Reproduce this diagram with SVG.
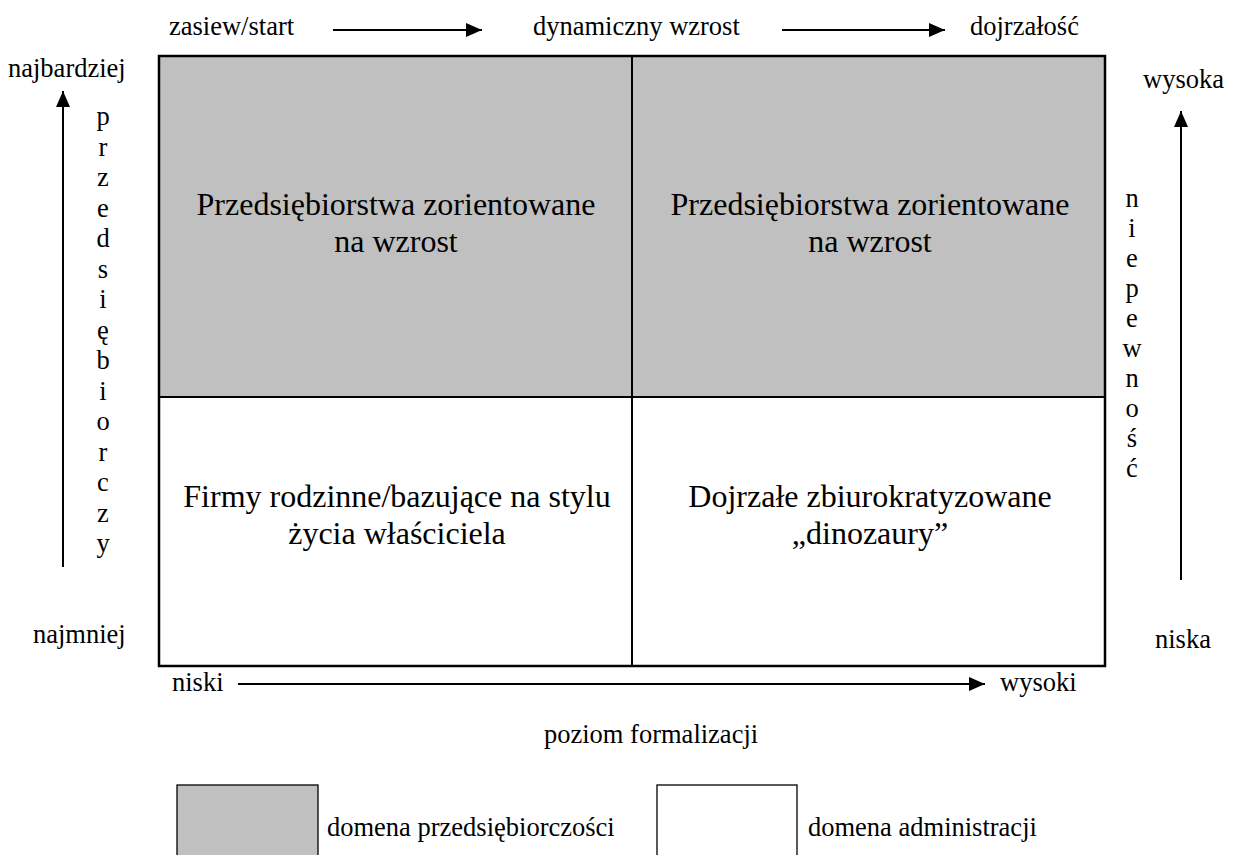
<svg xmlns="http://www.w3.org/2000/svg" width="1234" height="855" viewBox="0 0 1234 855">
  <defs>
    <marker id="head" viewBox="0 0 16 14" refX="16" refY="7" markerWidth="16" markerHeight="14" markerUnits="userSpaceOnUse" orient="auto">
      <path d="M0,0 L16,7 L0,14 Z" fill="#000"/>
    </marker>
    <style>
      text { font-family: 'Liberation Serif', 'Times New Roman', serif; fill: #000; }
      .lbl { font-size: 26.5px; }
      .cell { font-size: 32px; text-anchor: middle; }
      .vert { font-size: 26.5px; text-anchor: middle; }
      .axis { stroke: #000; stroke-width: 2; fill: none; marker-end: url(#head); }
      .shade { fill: #c0c0c0; }
      .plain { fill: #fff; }
      .border { fill: none; stroke: #000; stroke-width: 2.5; }
      .key { stroke: #000; stroke-width: 1.3; }
    </style>
  </defs>

  <rect width="1234" height="855" fill="#fff"/>

  <!-- quadrant cells -->
  <g id="cell-top-left">
    <rect class="shade" x="159" y="56" width="473" height="341"/>
    <text class="cell" x="396" y="215">Przedsiębiorstwa zorientowane</text>
    <text class="cell" x="396" y="252">na wzrost</text>
  </g>
  <g id="cell-top-right">
    <rect class="shade" x="632" y="56" width="473" height="341"/>
    <text class="cell" x="870" y="215">Przedsiębiorstwa zorientowane</text>
    <text class="cell" x="870" y="252">na wzrost</text>
  </g>
  <g id="cell-bottom-left">
    <rect class="plain" x="159" y="397" width="473" height="269"/>
    <text class="cell" x="397" y="507">Firmy rodzinne/bazujące na stylu</text>
    <text class="cell" x="397" y="544">życia właściciela</text>
  </g>
  <g id="cell-bottom-right">
    <rect class="plain" x="632" y="397" width="473" height="269"/>
    <text class="cell" x="870" y="507">Dojrzałe zbiurokratyzowane</text>
    <text class="cell" x="870" y="544">„dinozaury”</text>
  </g>

  <!-- grid lines -->
  <g id="grid">
    <rect class="border" x="159" y="56" width="946" height="610"/>
    <line x1="632" y1="56" x2="632" y2="666" stroke="#000" stroke-width="2"/>
    <line x1="159" y1="397" x2="1105" y2="397" stroke="#000" stroke-width="2"/>
  </g>

  <!-- axes -->
  <g id="connectors">
    <line class="axis" x1="333" y1="30" x2="482" y2="30"/>
    <line class="axis" x1="782" y1="30" x2="945" y2="30"/>
    <line class="axis" x1="63" y1="567" x2="63" y2="91"/>
    <line class="axis" x1="1181" y1="580" x2="1181" y2="111"/>
    <line class="axis" x1="238" y1="684" x2="985" y2="684"/>
  </g>

  <!-- stage labels along the top -->
  <g id="stages">
    <text class="lbl" x="169" y="35">zasiew/start</text>
    <text class="lbl" x="533" y="35">dynamiczny wzrost</text>
    <text class="lbl" x="970" y="35">dojrzałość</text>
  </g>

  <!-- left axis -->
  <g id="axis-left">
    <text class="lbl" x="8" y="77">najbardziej</text>
    <text class="lbl" x="33" y="643">najmniej</text>
    <text class="vert" x="103" y="125">p</text>
    <text class="vert" x="103" y="155.5">r</text>
    <text class="vert" x="103" y="186">z</text>
    <text class="vert" x="103" y="216.5">e</text>
    <text class="vert" x="103" y="247">d</text>
    <text class="vert" x="103" y="277.5">s</text>
    <text class="vert" x="103" y="308">i</text>
    <text class="vert" x="103" y="338.5">ę</text>
    <text class="vert" x="103" y="369">b</text>
    <text class="vert" x="103" y="399.5">i</text>
    <text class="vert" x="103" y="430">o</text>
    <text class="vert" x="103" y="460.5">r</text>
    <text class="vert" x="103" y="491">c</text>
    <text class="vert" x="103" y="521.5">z</text>
    <text class="vert" x="103" y="552">y</text>
  </g>

  <!-- right axis -->
  <g id="axis-right">
    <text class="lbl" x="1143" y="88">wysoka</text>
    <text class="lbl" x="1155" y="648">niska</text>
    <text class="vert" x="1132" y="207">n</text>
    <text class="vert" x="1132" y="237">i</text>
    <text class="vert" x="1132" y="267">e</text>
    <text class="vert" x="1132" y="297">p</text>
    <text class="vert" x="1132" y="327">e</text>
    <text class="vert" x="1132" y="357">w</text>
    <text class="vert" x="1132" y="387">n</text>
    <text class="vert" x="1132" y="417">o</text>
    <text class="vert" x="1132" y="447">ś</text>
    <text class="vert" x="1132" y="477">ć</text>
  </g>

  <!-- bottom axis -->
  <g id="axis-bottom">
    <text class="lbl" x="172" y="691">niski</text>
    <text class="lbl" x="1000" y="691">wysoki</text>
    <text class="lbl" x="544" y="743">poziom formalizacji</text>
  </g>

  <!-- legend -->
  <g id="legend-entrepreneurship">
    <rect class="shade key" x="177" y="785" width="141" height="80"/>
    <text class="lbl" x="327" y="836">domena przedsiębiorczości</text>
  </g>
  <g id="legend-administration">
    <rect class="plain key" x="657" y="785" width="140" height="80"/>
    <text class="lbl" x="808" y="836">domena administracji</text>
  </g>
</svg>
